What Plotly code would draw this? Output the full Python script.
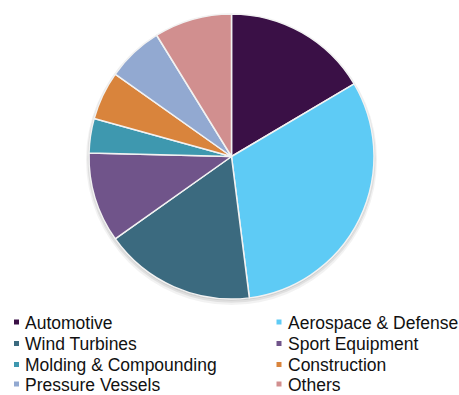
import plotly.graph_objects as go

# Market share by application (%), clockwise from 12 o'clock
labels = ["Automotive", "Aerospace & Defense", "Wind Turbines", "Sport Equipment",
          "Molding & Compounding", "Construction", "Pressure Vessels", "Others"]
shares = [16.5, 31.5, 17.2, 10.2, 3.9, 5.5, 6.4, 8.8]
colors = ["#3a1046", "#5ecbf5", "#3b6a7f", "#70548a",
          "#3e98af", "#d9843c", "#92a9d1", "#d18f8f"]

W, H = 459, 395
cx, cy, r = 231.5, 156.5, 142.5  # pie centre / radius in pixels

fig = go.Figure()
fig.add_trace(go.Pie(
    labels=labels, values=shares, sort=False, direction="clockwise", rotation=0,
    marker=dict(colors=colors, line=dict(color="#f2f2f2", width=1.5)),
    textinfo="none", hoverinfo="label+percent", showlegend=False,
    domain=dict(x=[(cx - r) / W, (cx + r) / W], y=[1 - (cy + r) / H, 1 - (cy - r) / H]),
))

shapes = []
# soft drop shadow beneath the pie
for grow, dy, alpha in [(3.0, 3.0, 0.05), (1.8, 2.0, 0.07), (0.8, 1.0, 0.08)]:
    rr = r + grow
    shapes.append(dict(type="circle", xref="paper", yref="paper", layer="below",
                       x0=(cx - rr) / W, x1=(cx + rr) / W,
                       y0=1 - (cy + dy + rr) / H, y1=1 - (cy + dy - rr) / H,
                       line=dict(width=0), fillcolor=f"rgba(0,0,0,{alpha})"))

# two-column legend below the pie
col_x = [14.0, 276.5]
row_y = [322.0, 343.5, 364.5, 384.0]
sq = 5.0
annotations = []
for i, (lab, col) in enumerate(zip(labels, colors)):
    mx = col_x[i % 2]
    my = row_y[i // 2]
    shapes.append(dict(type="rect", xref="paper", yref="paper",
                       x0=mx / W, x1=(mx + sq) / W,
                       y0=1 - (my + sq / 2) / H, y1=1 - (my - sq / 2) / H,
                       line=dict(width=0), fillcolor=col))
    annotations.append(dict(text=lab, xref="paper", yref="paper",
                            x=(mx + 10.0) / W, y=1 - (my + 0.5) / H,
                            xanchor="left", yanchor="middle", showarrow=False,
                            borderpad=0,
                            font=dict(family="Liberation Sans, Arial", size=17.5, color="#111111")))

fig.update_layout(
    width=W, height=H, margin=dict(l=0, r=0, t=0, b=0),
    paper_bgcolor="white", plot_bgcolor="white",
    shapes=shapes, annotations=annotations,
)

fig.write_html("out.html")
